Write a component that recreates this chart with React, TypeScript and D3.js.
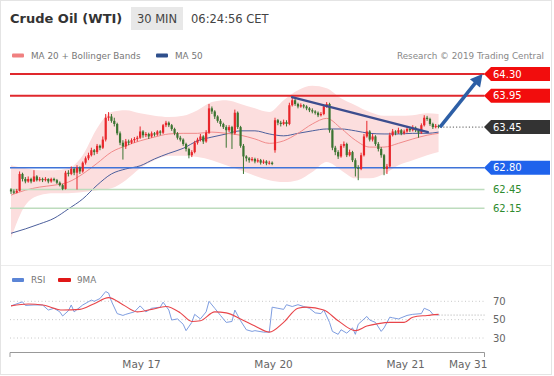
import React from 'react';
import * as d3 from 'd3';

// ---------- DATA ----------
// 30-minute candles [open, high, low, close], index 0 = first candle shown
const ohlc: [number, number, number, number][] = [
  [62.45,62.47,62.38,62.42],[62.42,62.45,62.38,62.40],[62.40,62.46,62.39,62.43],[62.43,62.74,62.42,62.70],
  [62.70,62.72,62.58,62.62],[62.62,62.65,62.55,62.58],[62.58,62.66,62.56,62.62],[62.62,62.64,62.55,62.58],
  [62.58,62.76,62.57,62.66],[62.66,62.68,62.58,62.60],[62.60,62.65,62.58,62.62],[62.62,62.64,62.57,62.60],
  [62.60,62.65,62.58,62.62],[62.62,62.63,62.55,62.58],[62.58,62.64,62.56,62.62],[62.62,62.64,62.58,62.60],
  [62.60,62.62,62.54,62.56],[62.56,62.58,62.50,62.52],[62.52,62.54,62.44,62.46],[62.46,62.75,62.45,62.72],
  [62.72,62.76,62.66,62.70],[62.70,62.82,62.68,62.78],[62.78,62.80,62.68,62.72],[62.72,62.84,62.45,62.80],
  [62.80,62.82,62.70,62.74],[62.74,62.90,62.72,62.88],[62.88,62.98,62.85,62.95],[62.95,63.04,62.92,63.00],
  [63.00,63.12,62.98,63.08],[63.08,63.10,63.00,63.05],[63.05,63.18,63.02,63.15],[63.15,63.17,63.08,63.12],
  [63.12,63.30,63.10,63.25],[63.25,63.66,63.22,63.60],[63.60,63.69,63.55,63.62],[63.62,63.66,63.52,63.55],
  [63.55,63.60,63.46,63.50],[63.50,63.52,63.32,63.35],[63.35,63.38,63.16,63.20],[63.20,63.24,62.93,63.14],
  [63.14,63.26,63.10,63.22],[63.22,63.25,63.16,63.20],[63.20,63.27,63.18,63.24],[63.24,63.29,63.20,63.26],
  [63.26,63.31,63.22,63.28],[63.28,63.46,63.26,63.38],[63.38,63.40,63.28,63.32],[63.32,63.37,63.29,63.34],
  [63.34,63.36,63.26,63.30],[63.30,63.38,63.28,63.35],[63.35,63.37,63.30,63.33],[63.33,63.40,63.31,63.38],
  [63.38,63.40,63.32,63.36],[63.36,63.50,63.34,63.48],[63.48,63.55,63.45,63.52],[63.52,63.54,63.45,63.48],
  [63.48,63.50,63.39,63.42],[63.42,63.44,63.32,63.35],[63.35,63.37,63.25,63.28],[63.28,63.31,63.22,63.25],
  [63.25,63.27,63.15,63.18],[63.18,63.20,63.06,63.10],[63.10,63.12,62.95,63.00],[63.00,63.08,62.97,63.05],
  [63.05,63.23,63.03,63.20],[63.20,63.28,63.17,63.25],[63.25,63.34,63.22,63.30],[63.30,63.32,63.18,63.22],
  [63.22,63.40,63.20,63.36],[63.36,63.82,63.34,63.75],[63.75,63.78,63.66,63.70],[63.70,63.72,63.58,63.62],
  [63.62,63.64,63.52,63.55],[63.55,63.58,63.46,63.50],[63.50,63.52,63.42,63.45],[63.45,63.48,63.12,63.40],
  [63.40,63.48,63.37,63.45],[63.45,63.47,63.10,63.35],[63.35,63.73,63.33,63.68],[63.68,63.70,63.42,63.45],
  [63.45,63.47,63.12,63.15],[63.15,63.18,62.70,62.98],[62.98,63.00,62.90,62.95],[62.95,62.97,62.88,62.92],
  [62.92,62.97,62.90,62.94],[62.94,62.96,62.87,62.90],[62.90,62.95,62.88,62.92],[62.92,62.94,62.85,62.88],
  [62.88,62.93,62.86,62.90],[62.90,62.92,62.84,62.87],[62.87,62.91,62.85,62.88],[62.88,62.90,62.84,62.86],
  [63.08,63.60,63.04,63.56],[63.56,63.58,63.48,63.52],[63.52,63.55,63.46,63.50],[63.50,63.57,63.48,63.53],
  [63.53,63.56,63.46,63.50],[63.50,63.84,63.48,63.80],[63.80,63.94,63.78,63.88],[63.88,63.90,63.79,63.82],
  [63.82,63.84,63.75,63.78],[63.78,63.83,63.76,63.80],[63.80,63.82,63.75,63.78],[63.78,63.80,63.72,63.75],
  [63.75,63.77,63.69,63.72],[63.72,63.75,63.67,63.70],[63.70,63.72,63.65,63.68],[63.68,63.70,63.61,63.64],
  [63.64,63.69,63.62,63.66],[63.66,63.81,63.64,63.78],[63.78,63.85,63.76,63.82],[63.82,63.84,63.36,63.40],
  [63.40,63.42,63.08,63.12],[63.12,63.15,63.00,63.05],[63.05,63.08,62.94,62.98],[62.98,63.18,62.96,63.15],
  [63.15,63.22,63.12,63.18],[63.18,63.20,62.97,63.00],[63.00,63.09,62.98,63.05],[63.05,63.07,62.89,62.92],
  [62.92,62.95,62.66,62.80],[62.80,62.84,62.60,62.78],[62.78,63.04,62.76,63.00],[63.00,63.34,62.98,63.30],
  [63.30,63.55,63.28,63.38],[63.38,63.40,63.22,63.25],[63.25,63.34,63.22,63.30],[63.30,63.32,63.15,63.18],
  [63.18,63.21,63.06,63.10],[63.10,63.13,62.96,63.00],[63.00,63.02,62.68,62.78],[62.78,62.86,62.70,62.82],
  [62.82,63.36,62.80,63.32],[63.32,63.42,63.30,63.38],[63.38,63.40,63.32,63.36],[63.36,63.44,63.34,63.40],
  [63.40,63.42,63.32,63.35],[63.35,63.41,63.33,63.38],[63.38,63.46,63.36,63.42],[63.42,63.45,63.37,63.40],
  [63.40,63.48,63.38,63.44],[63.44,63.46,63.37,63.40],[63.40,63.42,63.28,63.36],[63.36,63.51,63.34,63.48],
  [63.48,63.64,63.46,63.60],[63.60,63.63,63.55,63.58],[63.58,63.60,63.47,63.50],[63.50,63.52,63.42,63.45],
  [63.45,63.50,63.43,63.47],[63.47,63.49,63.43,63.45],
];

// indicator samples (candle index -> value)
const bandIdx = [0,5,10,15,20,25,30,35,40,45,50,55,60,65,70,75,80,85,90,95,100,105,110,115,120,125,130,135,140,145,149];
const ma20 = [62.36,62.44,62.49,62.52,62.57,62.70,62.87,63.05,63.15,63.23,63.29,63.34,63.35,63.35,63.37,63.35,63.32,63.26,63.19,63.23,63.35,63.50,63.59,63.43,63.24,63.13,63.13,63.19,63.26,63.32,63.35];
const bbUpper = [62.84,62.79,62.76,62.76,62.79,63.00,63.43,63.69,63.72,63.67,63.63,63.61,63.63,63.72,63.85,63.88,63.82,63.75,63.69,63.88,64.04,64.11,64.07,63.91,63.80,63.69,63.63,63.63,63.64,63.67,63.66];
const bbLower = [61.67,62.20,62.36,62.39,62.39,62.41,62.44,62.47,62.60,62.79,62.92,62.99,62.99,62.97,62.92,62.84,62.76,62.67,62.60,62.57,62.60,62.73,62.89,62.76,62.63,62.63,62.70,62.84,62.92,63.00,63.05];
const ma50 = [61.75,61.82,61.90,61.99,62.14,62.30,62.52,62.70,62.78,62.83,62.94,63.03,63.11,63.23,63.29,63.34,63.39,63.39,63.34,63.31,63.35,63.39,63.42,63.42,63.39,63.35,63.34,63.34,63.35,63.35,63.37];

const rsiIdx = [0,4,5,8,11,13,15,17,18,20,21,22,25,28,29,31,33,34,35,37,39,40,43,45,47,49,52,53,55,56,58,60,61,63,64,66,68,69,71,73,75,77,78,80,82,84,85,88,90,91,93,95,96,98,100,102,104,106,108,109,111,112,114,115,117,119,120,121,124,125,127,129,130,132,133,135,138,140,143,144,146,147,149];
const rsiVal = [65,69.4,65.5,66,66,60.5,62.4,58.5,54,59.7,66,58.5,66,71.3,70,73,80.6,79,70,56.6,54.6,55.8,58.5,65,58.5,62.4,63.6,69,60.5,49.6,50.8,45,38,47,55.8,50.8,58.5,70,62.4,54.6,47,48,60.5,48.8,39,37.2,38,36.4,36.4,63.6,62.4,61.2,66.3,64.3,66.3,64.3,62.4,57.4,56.6,60.5,47,37.2,34,39,35.3,41,34,45,53.5,49.6,47,37.2,41,52.7,52,50.8,54.6,55.8,56.6,62.4,59.7,55.8,55];
const rsiMaIdx = [0,6,11,18,24,29,34,39,44,49,54,59,63,66,71,75,80,85,90,95,100,103,109,114,120,124,128,132,137,140,145,149];
const rsiMaVal = [65,67,66,60.5,61.2,67.4,74,66.3,58.5,61.2,64.3,57.4,48,48.8,58.5,57.4,50.8,43,36.4,47,62.4,63.6,60.5,48.8,38,43,45.7,47,47,52.7,54.6,55.8];
const rsiTicks = [70, 50, 30];

// key levels
const levelValues = [64.30, 63.95, 63.45, 62.80, 62.45, 62.15];
const levelKinds = ['resistance', 'resistance', 'last', 'pivot', 'support', 'support'];

// drawn trend line and projection arrow (candle index, price)
const trendIdx = [97.9, 145.3];
const trendPrice = [63.93, 63.37];
const arrowIdx = [149.5, 164.3];
const arrowPrice = [63.45, 64.30];

// time axis
const dateTickIdx = [45.5, 91.5, 137.5, 159.3];
const dateTickLabels = ['May 17', 'May 20', 'May 21', 'May 31'];
const axisEndIdx = 165;

const FONT = "'DejaVu Sans', Verdana, sans-serif";
const UP = '#e8262b';
const DOWN = '#3b7431';

export default function App() {
  const x = d3.scaleLinear().domain([0, axisEndIdx]).range([11, 484.5]);
  const y = d3.scaleLinear().domain([62.15, 64.30]).range([208.3, 74]);
  const ry = d3.scaleLinear().domain([30, 70]).range([338, 301.3]);

  const band = d3
    .area<number>()
    .x((d) => x(d))
    .y0((_, k) => y(bbLower[k]))
    .y1((_, k) => y(bbUpper[k]))
    .curve(d3.curveMonotoneX)(bandIdx) as string;
  const lineFrom = (vals: number[]) =>
    d3
      .line<number>()
      .x((d) => x(d))
      .y((_, k) => y(vals[k]))
      .curve(d3.curveMonotoneX)(bandIdx) as string;

  const rsiPath = d3
    .line<number>()
    .x((d) => x(d))
    .y((_, k) => ry(rsiVal[k]))(rsiIdx) as string;
  const rsiMaPath = d3
    .line<number>()
    .x((d) => x(d))
    .y((_, k) => ry(rsiMaVal[k]))
    .curve(d3.curveMonotoneX)(rsiMaIdx) as string;

  const xL = x(0) - 1;
  const xR = x(axisEndIdx);

  const labelColor: Record<string, string> = {
    resistance: '#f20d0d',
    last: '#333333',
    pivot: '#1f63ec',
  };
  const lineColor: Record<string, string> = {
    resistance: '#e0282d',
    pivot: '#3f73d8',
    support: '#bddcbd',
  };

  // arrow geometry
  const ax0 = x(arrowIdx[0]);
  const ay0 = y(arrowPrice[0]);
  const ax1 = x(arrowIdx[1]);
  const ay1 = y(arrowPrice[1]);
  const len = Math.hypot(ax1 - ax0, ay1 - ay0);
  const ux = (ax1 - ax0) / len;
  const uy = (ay1 - ay0) / len;
  const headL = 12;
  const headW = 6.5;
  const bx = ax1 - ux * headL;
  const by = ay1 - uy * headL;
  const head = `M${ax1},${ay1} L${bx - uy * headW},${by + ux * headW} L${bx + uy * headW},${by - ux * headW} Z`;

  const lastRsi = rsiVal[rsiVal.length - 1];

  return (
    <svg
      width={554}
      height={376}
      style={{ position: 'absolute', left: 0, top: 0, background: '#fff', fontFamily: FONT }}
    >
      <defs>
        <clipPath id="main-clip">
          <rect x={xL} y={60} width={xR - xL} height={200} />
        </clipPath>
      </defs>
      <rect x={0.5} y={0.5} width={551} height={374} fill="#fff" stroke="#e4e4e4" />
      <line x1={1} x2={551} y1={265.5} y2={265.5} stroke="#ececec" />

      {/* header */}
      <text x={10} y={23} fontSize={13} fontWeight="bold" fill="#333">Crude Oil (WTI)</text>
      <rect x={131} y={7} width={52} height={23} fill="#e8e8e8" />
      <text x={157} y={22.5} fontSize={11.5} fill="#444" textAnchor="middle">30 MIN</text>
      <text x={191} y={22.5} fontSize={11.5} fill="#444">06:24:56 CET</text>

      {/* main legend */}
      <rect x={12} y={53.5} width={12} height={4} rx={1} fill="#f08080" />
      <text x={31} y={59} fontSize={8.8} fill="#777">MA 20 + Bollinger Bands</text>
      <rect x={156} y={53.5} width={12} height={4} rx={1} fill="#2e4f8c" />
      <text x={175} y={59} fontSize={8.8} fill="#777">MA 50</text>
      <text x={544} y={59} fontSize={8.8} fill="#888" textAnchor="end">Research © 2019 Trading Central</text>

      {/* bands & moving averages */}
      <g clipPath="url(#main-clip)">
        <path d={band} fill="#fcdede" />
        <path d={lineFrom(ma50)} fill="none" stroke="#4c5f9c" strokeWidth={1} />
        <path d={lineFrom(ma20)} fill="none" stroke="#f08a8a" strokeWidth={1} />
      </g>

      {/* level lines */}
      {levelValues.map((v, k) => {
        const kind = levelKinds[k];
        if (kind === 'last') {
          return (
            <line key={k} x1={x(arrowIdx[0])} x2={xR} y1={y(v)} y2={y(v)} stroke="#555" strokeWidth={1} strokeDasharray="1.2,2" />
          );
        }
        return (
          <line
            key={k}
            x1={xL}
            x2={xR}
            y1={y(v)}
            y2={y(v)}
            stroke={lineColor[kind]}
            strokeWidth={kind === 'resistance' ? 2 : 1.5}
          />
        );
      })}

      {/* candles */}
      <g>
        {ohlc.map(([o, h, l, c], i) => {
          const cx = x(i);
          const col = c >= o ? UP : DOWN;
          const top = y(Math.max(o, c));
          const bot = y(Math.min(o, c));
          return (
            <g key={i}>
              <line x1={cx} x2={cx} y1={y(h)} y2={y(l)} stroke={col} strokeWidth={1} />
              <rect x={cx - 1.1} y={top} width={2.2} height={Math.max(1, bot - top)} fill={col} />
            </g>
          );
        })}
      </g>

      {/* trend line */}
      <line
        x1={x(trendIdx[0])}
        y1={y(trendPrice[0])}
        x2={x(trendIdx[1])}
        y2={y(trendPrice[1])}
        stroke="#3c4d8e"
        strokeWidth={2.2}
        strokeLinecap="round"
      />

      {/* projection arrow */}
      <line x1={ax0} y1={ay0} x2={bx + ux * 1} y2={by + uy * 1} stroke="#2d5fa6" strokeWidth={3.5} />
      <path d={head} fill="#2d5fa6" />

      {/* level labels */}
      {levelValues.map((v, k) => {
        const kind = levelKinds[k];
        const yy = y(v);
        if (kind === 'support') {
          return (
            <text key={k} x={493} y={yy} dy="0.36em" fontSize={10} fill="#2e8b2e">
              {v.toFixed(2)}
            </text>
          );
        }
        const x0 = 484;
        return (
          <g key={k}>
            <path
              d={`M${x0},${yy} L${x0 + 7},${yy - 7} L550,${yy - 7} L550,${yy + 7} L${x0 + 7},${yy + 7} Z`}
              fill={labelColor[kind]}
            />
            <text x={493} y={yy} dy="0.36em" fontSize={10} fill="#fff">
              {v.toFixed(2)}
            </text>
          </g>
        );
      })}

      {/* RSI panel */}
      <rect x={12} y={278} width={12} height={4} rx={1} fill="#5b85d6" />
      <text x={31} y={283} fontSize={8.8} fill="#777">RSI</text>
      <rect x={58} y={278} width={13} height={4} rx={1} fill="#e01818" />
      <text x={77} y={283} fontSize={8.8} fill="#777">9MA</text>

      {rsiTicks.map((t) => (
        <g key={t}>
          <line x1={xL} x2={xR} y1={ry(t)} y2={ry(t)} stroke="#c8c8c8" strokeDasharray="1,2.5" />
          <text x={493} y={ry(t)} dy="0.36em" fontSize={10} fill="#666">{t}</text>
        </g>
      ))}
      <line x1={x(rsiIdx[rsiIdx.length - 1])} x2={xR} y1={ry(lastRsi)} y2={ry(lastRsi)} stroke="#aaa" strokeDasharray="1,2" />
      <path d={rsiPath} fill="none" stroke="#7e9de0" strokeWidth={1} />
      <path d={rsiMaPath} fill="none" stroke="#e8454a" strokeWidth={1.1} />

      {/* time axis */}
      <path d={`M${xL},357 V352.5 H${xR} V357`} fill="none" stroke="#999" strokeWidth={1} />
      {dateTickIdx.map((t, k) => (
        <text key={k} x={x(t)} y={368} fontSize={10.5} fill="#666" textAnchor="middle">
          {dateTickLabels[k]}
        </text>
      ))}
    </svg>
  );
}
